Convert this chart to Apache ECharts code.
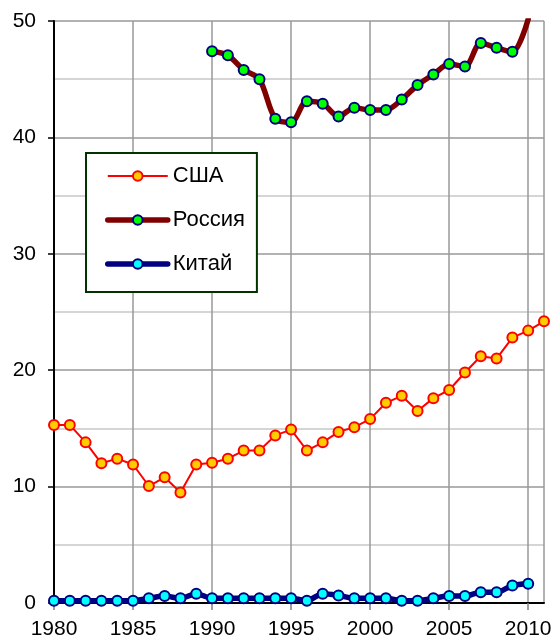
<!DOCTYPE html>
<html>
<head>
<meta charset="utf-8">
<script src="https://cdn.jsdelivr.net/npm/echarts@6/dist/echarts.min.js"></script>
<style>
html,body{margin:0;padding:0;background:#fff;}
#c{width:558px;height:642px;}
</style>
</head>
<body>
<div id="c"></div>
<script>
const years = [1980,1981,1982,1983,1984,1985,1986,1987,1988,1989,1990,1991,1992,1993,1994,1995,1996,1997,1998,1999,2000,2001,2002,2003,2004,2005,2006,2007,2008,2009,2010,2011];
const usa = [15.3,15.3,13.8,12.0,12.4,11.9,10.05,10.8,9.5,11.9,12.05,12.4,13.1,13.1,14.4,14.9,13.1,13.8,14.7,15.1,15.8,17.2,17.8,16.5,17.6,18.3,19.8,21.2,21.0,22.8,23.4,24.2];
const russia = [null,null,null,null,null,null,null,null,null,null,47.4,47.05,45.8,45.0,41.6,41.3,43.1,42.9,41.8,42.55,42.35,42.35,43.25,44.5,45.4,46.3,46.1,48.1,47.7,47.35,50.15,null];
const china = [0.2,0.2,0.2,0.2,0.2,0.2,0.4,0.6,0.4,0.8,0.4,0.4,0.4,0.4,0.4,0.4,0.2,0.8,0.65,0.4,0.4,0.4,0.2,0.2,0.4,0.6,0.6,0.92,0.92,1.5,1.66,null];
const seriesNames = ['США','Россия','Китай'];
const yTicks = [0,10,20,30,40,50];
const xTicks = [1980,1985,1990,1995,2000,2005,2010];

function pairs(vals){ return years.map((y,i)=>[y, vals[i]]); }

const font = '"Liberation Sans", Arial, sans-serif';
const chart = echarts.init(document.getElementById('c'), null, {renderer:'canvas'});
chart.setOption({
  animation:false,
  backgroundColor:'#fff',
  grid:{left:54, right:14, top:21, bottom:39, containLabel:false, outerBoundsMode:'none'},
  xAxis:{
    type:'value', min:xTicks[0], max:2011, interval:5,
    axisLine:{show:true, onZero:false, lineStyle:{color:'#000', width:2}},
    axisTick:{show:true, length:7, lineStyle:{color:'#808080', width:1.5}},
    axisLabel:{show:true, margin:16, fontSize:21, color:'#000', fontFamily:font, showMaxLabel:false,
      formatter:v=> xTicks.indexOf(v)>=0 ? String(v) : ''},
    splitLine:{show:true, lineStyle:{color:'#999', width:1.5}}
  },
  yAxis:{
    type:'value', min:yTicks[0], max:yTicks[yTicks.length-1], interval:10,
    axisLine:{show:true, lineStyle:{color:'#000', width:2}},
    axisTick:{show:true, length:6, lineStyle:{color:'#000', width:1.5}},
    axisLabel:{margin:18, fontSize:21, color:'#000', fontFamily:font},
    splitLine:{show:true, lineStyle:{color:'#999', width:1.5}},
    minorTick:{show:false, splitNumber:2},
    minorSplitLine:{show:true, lineStyle:{color:'#c8c8c8', width:1.5}}
  },
  legend:{
    show:true, orient:'vertical', left:86, top:153,
    backgroundColor:'#fff', borderColor:'#003300', borderWidth:2, borderRadius:0,
    padding:[11,12,16,19], itemGap:20, itemWidth:60, itemHeight:12,
    textStyle:{fontSize:22, color:'#000', fontFamily:font, lineHeight:24},
    data:[
      {name:seriesNames[0], lineStyle:{width:2}},
      {name:seriesNames[1], lineStyle:{width:5.5, cap:'round'}},
      {name:seriesNames[2], lineStyle:{width:5.5, cap:'round'}}
    ]
  },
  series:[
    {name:seriesNames[0], type:'line', data:pairs(usa), smooth:false,
      symbol:'circle', symbolSize:10, showSymbol:true,
      lineStyle:{color:'#ff0000', width:2},
      itemStyle:{color:'#ffcc00', borderColor:'#ff0000', borderWidth:2}, z:3},
    {name:seriesNames[1], type:'line', data:pairs(russia), smooth:0.3, connectNulls:false,
      symbol:'circle', symbolSize:10, showSymbol:true, clip:true,
      lineStyle:{color:'#800000', width:5.5, cap:'round'},
      itemStyle:{color:'#00ff00', borderColor:'#000080', borderWidth:2}, z:3},
    {name:seriesNames[2], type:'line', data:pairs(china), smooth:0.3,
      symbol:'circle', symbolSize:10, showSymbol:true,
      lineStyle:{color:'#000080', width:5.5, cap:'round'},
      itemStyle:{color:'#00ffff', borderColor:'#000080', borderWidth:2}, z:3}
  ]
});
</script>
</body>
</html>
